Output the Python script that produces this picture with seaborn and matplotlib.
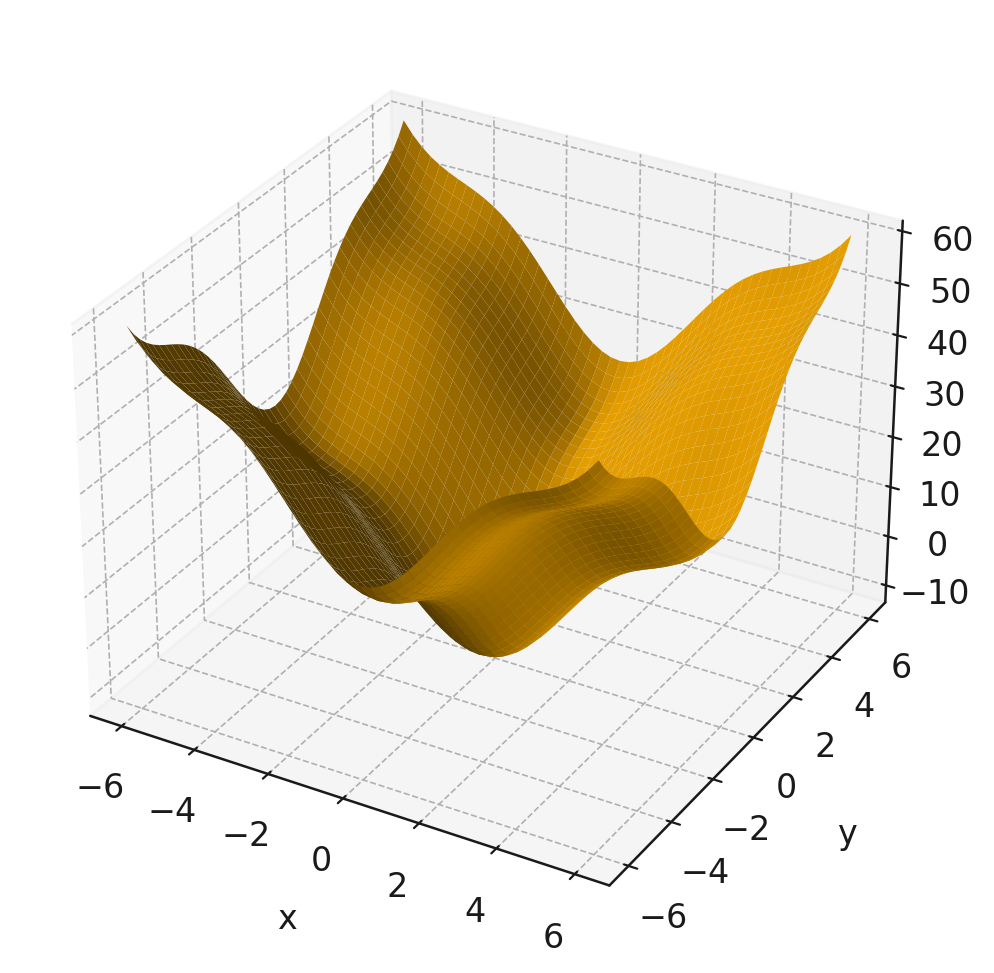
import numpy as np
import matplotlib
matplotlib.use("Agg")
import matplotlib.pyplot as plt
import seaborn as sns

# heights, every 0.25 from -6 to 6
half_profile = [-6.00, -5.75, -5.02, -3.83, -2.24, -0.33, 1.83, 4.13, 6.50, 8.83, 11.06, 13.11, 14.94,
                16.53, 17.87, 18.99, 19.92, 20.74, 21.51, 22.34, 23.30, 24.49, 26.00, 27.90, 30.24]
z_along_x = half_profile[:0:-1] + half_profile
z_along_y = half_profile[:0:-1] + half_profile
x_ticks = [-6, -4, -2, 0, 2, 4, 6]
y_ticks = [-6, -4, -2, 0, 2, 4, 6]
z_ticks = [-10, 0, 10, 20, 30, 40, 50, 60]

sns.set_theme(style="whitegrid", context="notebook", rc={
    "grid.linestyle": "--", "grid.linewidth": 0.6, "grid.color": "#b0b0b0",
    "axes.edgecolor": "#1a1a1a", "axes.linewidth": 0.9,
    "xtick.major.width": 0.8, "ytick.major.width": 0.8,
    "xtick.color": "#1a1a1a", "ytick.color": "#1a1a1a",
    "text.color": "#1a1a1a", "axes.labelcolor": "#1a1a1a"})

x = np.linspace(-6, 6, len(z_along_x))
y = np.linspace(-6, 6, len(z_along_y))
X, Y = np.meshgrid(x, y)
Z = np.add.outer(np.array(z_along_y), np.array(z_along_x))

fig = plt.figure(figsize=(4.975, 4.865), dpi=200)
ax = fig.add_axes([0.02, 0.03, 0.93, 0.95], projection="3d")
ax.plot_surface(X, Y, Z, color="#E69F00", rstride=1, cstride=1, linewidth=0)

ax.set_xticks(x_ticks)
ax.set_yticks(y_ticks)
ax.set_zticks(z_ticks)
ax.tick_params(axis="x", labelsize=12, pad=4)
ax.tick_params(axis="y", labelsize=12, pad=3)
ax.tick_params(axis="z", labelsize=12, pad=3)
ax.set_xlabel("x", fontsize=12, labelpad=10)
ax.set_ylabel("y", fontsize=12, labelpad=10)

# faint pane edges, only the axis lines stay dark
for axis in [ax.xaxis, ax.yaxis, ax.zaxis]:
    axis.pane.set_edgecolor("#ececec")
    axis.line.set_color("#1a1a1a")

plt.savefig("out.png", dpi=200)
plt.close()
